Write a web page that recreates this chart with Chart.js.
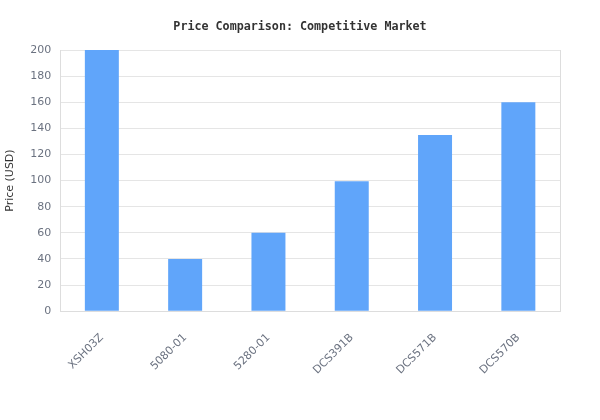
<!DOCTYPE html>
<html>
<head>
<meta charset="utf-8">
<script src="https://cdn.jsdelivr.net/npm/chart.js@4.4.0/dist/chart.umd.min.js"></script>
<style>
  html, body { margin: 0; padding: 0; background: #fff; }
  #wrap { width: 600px; height: 420px; }
</style>
</head>
<body>
<div id="wrap"><canvas id="priceChart"></canvas></div>
<script>
// Chart data
const models = ['XSH03Z', '5080-01', '5280-01', 'DCS391B', 'DCS571B', 'DCS570B'];
const prices = [200, 40, 60, 99.5, 135, 160];

const ctx = document.getElementById('priceChart').getContext('2d');
new Chart(ctx, {
    type: 'bar',
    data: {
        labels: models,
        datasets: [{
            label: 'Price (USD)',
            data: prices,
            backgroundColor: '#60a5fa',
            borderWidth: 0,
            categoryPercentage: 0.8,
            barPercentage: 0.51
        }]
    },
    options: {
        responsive: true,
        maintainAspectRatio: false,
        animation: false,
        layout: {
            padding: { left: 0, right: 0, top: 0, bottom: 31 }
        },
        plugins: {
            legend: { display: false },
            title: {
                display: true,
                text: 'Price Comparison: Competitive Market',
                color: '#333',
                font: { family: 'DejaVu Sans Mono', size: 11.7, weight: 'bold' },
                padding: { top: 20, bottom: 16 }
            },
            tooltip: { enabled: false }
        },
        scales: {
            x: {
                grid: { display: false },
                border: { color: '#ddd' },
                ticks: {
                    color: '#6b7280',
                    font: { family: 'DejaVu Sans', size: 11 },
                    maxRotation: 45,
                    minRotation: 45,
                    padding: 12
                }
            },
            y: {
                min: 0,
                max: 200,
                ticks: {
                    stepSize: 20,
                    color: '#6b7280',
                    font: { family: 'DejaVu Sans', size: 11 },
                    padding: 9
                },
                grid: { color: '#e5e5e5', drawTicks: false },
                border: { color: '#ddd' },
                title: {
                    display: true,
                    text: 'Price (USD)',
                    color: '#333',
                    font: { family: 'DejaVu Sans', size: 11 }
                }
            },
            // right-hand frame line and margin
            y2: {
                position: 'right',
                display: true,
                grid: { display: false, drawTicks: false },
                border: { color: '#ddd' },
                ticks: { display: false },
                afterFit: function(scale) { scale.width = 40; }
            }
        }
    }
});
</script>
</body>
</html>
